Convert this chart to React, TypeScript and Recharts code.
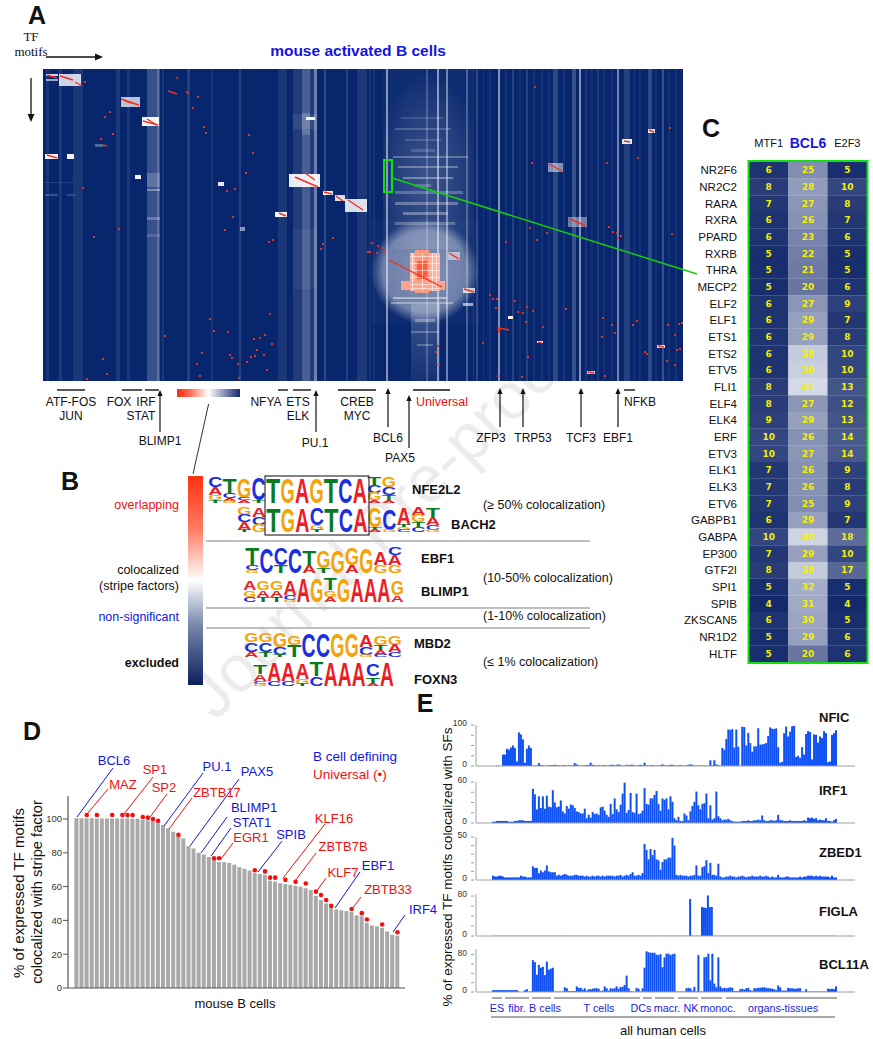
import React from 'react';
import { ScatterChart, Scatter, XAxis, YAxis, ReferenceArea, ReferenceLine, BarChart, Bar, ComposedChart, Line } from 'recharts';

const FONT = '"Liberation Sans", Arial, sans-serif';

/* ---------- Panel A: motif x motif heat map (values in motif rank units) ---------- */
const stripes: number[][] = [
  [3,6,0.07],[16,19,0.09],[30,40,0.08],[73,77,0.09],[84,87,0.08],[104,117,0.2],[114,116,0.18],[119,121,0.08],
  [144,147,0.12],[168,170,0.07],[196,198,0.12],[235,244,0.08],[250,274,0.1],[259,267,0.18],[271,274,0.35],
  [281,283,0.16],[303,305,0.13],[314,324,0.09],[326,328,0.06],[330,332,0.05],[343,345,0.5],[383,385,0.2],[394,396,0.5],[403,405,0.42],
  [423,425,0.25],[430,431,0.08],[433,435,0.16],[440,441,0.07],[446,448,0.07],[455,457,0.5],[462,464,0.06],[469,471,0.12],[476,478,0.06],
  [483,485,0.12],[490,492,0.06],[498,500,0.06],[505,507,0.05],[510,515,0.16],[520,522,0.07],[529,533,0.2],[536,538,0.5],[542,544,0.07],
  [548,550,0.05],[554,556,0.09],[560,562,0.06],[568,570,0.05],[574,576,0.42],[581,587,0.12],[590,592,0.05],[596,598,0.06],[605,609,0.16],[612,614,0.05],[619,621,0.2],[625,627,0.05],[632,634,0.06],
];
const softFrames: (number | string)[][] = [
  [340,430,0,180,'url(#upGlow)'],[328,436,150,255,'url(#blobGlow)'],[368,397,235,312,'url(#tailGlow)'],
];
const glowBlocks: number[][] = [
  [358,400,48,50,0.14],[352,408,59,61,0.2],[362,398,70,72,0.16],[350,425,87,89,0.28],[355,415,97,99,0.3],
  [360,410,108,110,0.34],[352,420,122,125,0.24],[352,415,133,136,0.3],[360,405,143,146,0.32],[352,412,153,156,0.26],[368,392,80,83,0.16],[372,388,115,118,0.22],
  [350,404,228,230,0.45],[348,410,233,235,0.35],[372,392,250,253,0.3],[368,396,262,264,0.25],[374,390,275,277,0.25],
  [104,117,104,118,0.2],[104,117,120,122,0.35],[104,117,148,151,0.25],[104,117,165,168,0.14],
  [259,267,44,66,0.16],[250,274,45,60,0.08],[250,274,160,220,0.05],
  [2,15,125,127,0.2],[24,32,125,127,0.16],[0,30,113,114,0.1],
  [3,15,5,7,0.8],[3,15,10,12,0.6],[16,38,5,17,0.8],[78,97,28,38,0.72],[99,116,48,57,0.95],[2,15,85,90,0.95],[24,31,85,90,0.95],
  [246,277,105,118,0.92],[280,290,122,126,0.95],[292,302,126,132,0.85],[302,324,130,143,0.85],[232,244,143,148,0.95],[263,272,48,51,0.95],
  [505,520,94,103,0.5],[525,544,148,158,0.4],[579,589,70,75,0.9],[605,612,60,64,0.85],[420,432,219,224,0.75],
  [405,417,183,191,0.5],[420,430,234,237,0.6],[465,470,247,250,0.95],[494,500,272,274,0.95],[614,622,276,279,0.85],
  [544,552,302,305,0.75],[92,98,106,110,0.95],[175,181,113,117,0.9],[197,202,158,162,0.5],[52,60,75,78,0.3],
];
const redBlocks: (number | string)[][] = [
  [367,397,184,222,'#ffb3a0'],[372,386,181,224,'#ff9a82'],[374,384,192,210,'#ff5a3a'],[358,402,212,221,'#ffa48e'],
];
const coreRows = [187,194,201,208,215,219];
const coreColumns = [369,379,389,393];
const redSegments: number[][] = [
  [17,7,30,11],[32,13,39,17],[4,6,14,9],[82,32,96,36],[104,50,114,56],[4,86,14,89],[252,108,275,118],[262,104,272,111],
  [281,123,289,125],[293,127,300,132],[305,131,320,141],[236,144,243,147],[346,191,399,218],[506,95,519,102],[527,150,543,157],
  [406,184,416,190],[421,220,431,223],[125,22,134,25],[143,22,146,25],[78,30,90,34],[100,52,115,56],[455,258,456,264],[456,259,466,261],[581,72,587,73],
  [606,61,611,63],[615,277,621,278],[545,303,551,304],[495,273,499,274],[133,8,135,10],[60,76,64,77],
];
const redDotX = [42,67,62,70,58,155,150,161,163,206,210,203,184,192,40,76,51,182,190,226,230,280,278,290,167,227,171,185,122,211,217,222,229,214,212,208,221,159,187,189,154,195,204,60,64,224,157,196,44,489,564,492,627,595,566,570,574,578,575,629,487,504,494,463,329,335,340,327,334,342,325,472,484,490,475,480,483,447,450,454,453,523,500,560,569,572,559,594,590,625,636,639,632,440,485,602,604,634,637,624,632,395,393,396,479,455,562];
const redDotY = [13,43,48,65,70,28,39,58,64,66,84,104,122,120,119,160,168,161,148,173,171,175,180,169,250,245,262,263,267,270,269,266,275,281,287,288,286,284,286,289,295,295,293,290,305,301,307,309,310,94,94,18,59,89,158,163,164,167,169,165,159,164,171,173,174,177,179,183,184,184,183,232,238,242,243,244,253,226,230,230,239,240,258,249,256,264,268,252,256,256,255,254,266,274,288,283,285,281,280,292,296,277,283,296,308,307,307];

/* ---------- Panel B: sequence logos (top letter first; digit = share of column height) ---------- */
const logoNFE2L2 = ['C4A3G2T1','T7C2A1G1','G8C1A1','C9T1','T10','G10','A10','G10','T10','C10','A10','T3C3G3A1','G4C3T2A1'];
const logoBACH2 = ['G3C3A3T1','A4C3G3','T10','G10','A10','C7G2T1','T10','C10','A10','G8T1A1','C9G1','A7T1G1C1','A3G3T2C2','T4A3C2G1'];
const logoEBF1 = ['T7C2G1','C10','C7T3','C10','T6A3','G7T2','G9','G7A3','G10','A5G3','C3A4G3'];
const logoBLIMP1 = ['A4G3C2','G4A3T2','G4A3T2','A6C2G1','A10','G10','T5G3A2','G10','A10','A10','A10','G6A3'];
const logoMBD2 = ['G4C4A2','G4C4T2','G6C3T1','G4T5','C10','C10','G10','G10','A5C3G1','G4T2A2C1','G4A3C2'];
const logoFOXN3 = ['T4A3C1G1','A8C2','A8C2','A7G2T1','T6C4','A10','A10','A10','C5T3A1','A10'];
const LOGO_COLOR: Record<string, string> = { A: '#ee1c25', C: '#1a2fe0', G: '#f5a30a', T: '#0a7a22' };
const LOGO_ADV: Record<string, number> = { A: 7.22, C: 7.22, G: 7.78, T: 6.11 };

/* ---------- Panel C ---------- */
const tfNames = ['NR2F6','NR2C2','RARA','RXRA','PPARD','RXRB','THRA','MECP2','ELF2','ELF1','ETS1','ETS2','ETV5','FLI1','ELF4','ELK4','ERF','ETV3','ELK1','ELK3','ETV6','GABPB1','GABPA','EP300','GTF2I','SPI1','SPIB','ZKSCAN5','NR1D2','HLTF'];
const mtf1Values = [6,8,7,6,6,5,5,5,6,6,6,6,6,8,8,9,10,10,7,7,7,6,10,7,8,5,4,6,5,5];
const bcl6Values = [25,28,27,26,23,22,21,20,27,29,29,38,39,41,27,29,26,27,26,26,25,29,40,29,38,32,31,30,29,20];
const e2f3Values = [5,10,8,7,6,5,5,6,9,7,8,10,10,13,12,13,14,14,9,8,9,7,18,10,17,5,4,5,6,6];

/* ---------- Panel D ---------- */
const stripeFactorShare = [100.4,100.4,100.4,100.4,100.3,100.3,100.3,100.3,100.3,100.3,100.3,100.2,100.2,99.5,99.3,98.8,98,96.5,94.5,92.5,90,88.5,84,82.5,80,79,77.5,77,74.5,74.5,74,73,71.5,70.5,69.5,68,67.5,67,63.5,63,62,61.5,61,60.5,60,59,58,54.5,52,50,48,46.5,46,45.5,45,43,42.5,38.5,37,36.5,35.5,33.5,31.5,31];
const universalIndex = [2,4,7,9,10,11,13,14,15,16,20,27,28,35,37,38,39,41,43,45,47,48,49,50,54,56,57,60,63];
const universalValue = [102.4,102.4,102.4,102.3,102.3,102.3,101.2,100.8,100,99,90.7,76.8,76.8,69.7,69,65.3,65.3,64,62.8,61.8,57,55,52,48.6,46.7,44.3,40.5,37.6,33];
const dTicks = [0,20,40,60,80,100];

/* ---------- Panel E ---------- */
const nficValues = [0,0,1,1,0,28,28,42,40,45,50,44,11,82,77,65,8,42,50,44,1,1,1,7,2,2,1,1,2,2,2,3,2,2,1,2,2,1,2,1,2,7,4,2,1,1,2,2,3,8,3,2,1,2,1,2,2,1,1,3,3,2,3,4,2,1,1,3,2,3,3,1,1,2,3,2,8,2,1,2,2,1,1,1,2,4,2,1,2,3,3,2,1,2,2,1,1,2,3,4,3,1,1,1,1,1,1,1,1,14,2,14,4,2,1,44,40,66,89,88,90,45,89,47,0,96,95,50,81,56,35,48,48,92,52,53,54,56,73,94,91,90,92,46,8,10,80,96,72,84,97,98,22,25,20,46,28,78,85,83,16,77,76,57,72,68,85,80,9,11,76,80,87];
const irf1Values = [2,2,3,3,3,3,3,3,2,2,2,3,3,4,4,4,3,3,3,3,50,42,20,39,22,39,21,40,24,23,48,30,23,24,33,17,14,25,21,27,26,22,17,16,14,14,21,7,12,8,16,13,14,12,23,24,18,12,9,28,13,36,20,16,27,43,59,15,19,44,16,15,43,13,14,18,51,28,27,36,36,41,47,28,18,36,34,36,20,39,31,7,4,9,3,3,14,11,4,17,25,31,46,26,20,28,29,43,7,26,5,7,46,10,7,4,5,5,6,4,3,2,2,2,2,3,3,3,4,3,3,4,4,5,4,11,4,3,3,4,4,3,4,12,4,4,3,3,3,4,3,3,3,3,3,3,4,3,8,7,8,6,7,4,5,4,4,7,3,3,2,4,6];
const zbed1Values = [5,4,4,5,5,4,3,3,3,3,3,3,3,3,5,4,4,3,3,3,16,14,14,8,11,9,11,17,10,9,9,9,5,6,5,6,7,6,5,5,5,6,6,5,5,5,4,5,4,4,5,4,5,5,4,5,4,5,5,5,5,4,5,5,6,4,5,6,5,7,9,5,5,6,5,8,42,35,24,36,29,35,24,23,12,21,24,24,26,26,49,40,6,5,6,5,5,5,4,5,5,6,17,5,5,15,16,23,8,20,6,6,5,19,4,3,3,4,4,5,4,4,3,4,4,5,4,3,4,4,5,4,4,4,5,4,4,5,4,3,4,3,3,6,3,3,3,4,4,3,3,3,3,3,4,3,4,4,5,5,5,4,5,4,5,4,4,4,4,3,5,3,3];
const figlaValues = [0.4,0.4,0.4,0.4,0.4,0.4,0.4,0.4,0.4,0.4,0.4,0.4,0.4,0.4,0.4,0.4,0.4,0.4,0.4,0.4,0.4,0.4,0.4,0.4,0.4,0.4,0.4,0.4,0.4,0.4,0.4,0.4,0.4,0.4,0.4,0.4,0.4,0.4,0.4,0.4,0.4,0.4,0.4,0.4,0.4,0.4,0.4,0.4,0.4,0.4,0.4,0.4,0.4,0.4,0.4,0.4,0.4,0.4,0.4,0.4,0.4,0.4,0.4,0.4,0.4,0.4,0.4,0.4,0.4,0.4,0.4,0.4,0.4,0.4,0.4,0.4,0.4,0.4,0.4,0.4,0.4,0.4,0.4,0.4,0.4,0.4,0.4,0.4,0.4,0.4,0.4,0.4,0.4,0.4,0.4,0.4,0.4,0.4,0.4,0.4,74,0.4,0.4,0.4,0.4,0.4,58,57,56,81,58,58,0.4,0.4,0.4,0.4,0.4,0.4,0.4,0.4,0.4,0.4,0.4,0.4,0.4,0.4,0.4,0.4,0.4,0.4,0.4,0.4,0.4,0.4,0.4,0.4,0.4,0.4,0.4,0.4,0.4,0.4,0.4,0.4,0.4,0.4,0.4,0.4,0.4,0.4,0.4,0.4,0.4,0.4,0.4,0.4,0.4,0.4,0.4,0.4,0.4,0.4,0.4,0.4,0.4,0.4,0.4,0.4,0.4,0.4,0.4,0.4,0.4,0.4,0.4];
const bcl11aValues = [4,4,4,4,4,4,4,4,4,4,4,4,4,1,0,0,4,6,1,1,68,64,37,58,52,54,36,65,48,50,52,1,1,1,1,1,10,8,2,2,2,2,12,9,9,5,8,3,6,6,7,8,8,7,2,3,12,8,3,8,7,8,12,7,11,11,15,35,8,2,1,1,9,7,1,8,52,87,85,84,84,84,80,79,81,53,74,82,82,79,81,82,1,1,1,1,1,8,9,8,3,11,1,79,1,1,74,75,82,25,82,18,10,74,12,8,9,8,9,10,9,2,2,2,6,7,5,8,9,4,2,8,8,9,9,10,10,9,8,8,7,6,4,14,10,3,3,3,9,8,8,7,7,8,8,1,1,6,1,1,1,1,1,1,1,1,1,1,7,6,7,6,12];

const heatPoints = redDotX.map((x, i) => ({ x, y: redDotY[i] }));
const cellPoints = tfNames.flatMap((tf, i) => [
  { col: 'MTF1', tf, value: mtf1Values[i] },
  { col: 'BCL6', tf, value: bcl6Values[i] },
  { col: 'E2F3', tf, value: e2f3Values[i] },
]);
const universalMap = new Map(universalIndex.map((k, i) => [k, universalValue[i]]));
const dRows = stripeFactorShare.map((v, i) => ({ i, v, dot: universalMap.get(i) ?? null }));

const mix = (a: number[], b: number[], t: number) => {
  const c = a.map((x, i) => Math.round(x + (b[i] - x) * t));
  return `rgb(${c[0]},${c[1]},${c[2]})`;
};
const cellColor = (v: number) => mix([20, 41, 107], [212, 217, 230], Math.min(1, (v - 4) / 37));

/* ---------- drawing helpers ---------- */
const T = ({ x, y, s = 12, c = '#111', a = 'start', b = false, f = FONT, r, children }: any) => (
  <text x={x} y={y} fontSize={s} fill={c} textAnchor={a} fontWeight={b ? 700 : 400} fontFamily={f} dominantBaseline="central"
    transform={r !== undefined ? `rotate(${r} ${x} ${y})` : undefined}>{children}</text>
);
const Seg = ({ p, c = '#111', w = 1 }: any) => <line x1={p[0]} y1={p[1]} x2={p[2]} y2={p[3]} stroke={c} strokeWidth={w} />;
const ArrowUp = ({ x, y1, y2 }: any) => (
  <g>
    <line x1={x} y1={y1} x2={x} y2={y2 + 4} stroke="#111" strokeWidth={1.2} />
    <polygon points={`${x},${y2} ${x - 2.6},${y2 + 6} ${x + 2.6},${y2 + 6}`} fill="#111" />
  </g>
);
const Logo = ({ cols, x, y, w, h }: any) => {
  const cw = w / cols.length;
  return (
    <g>
      {cols.map((col: string, i: number) => {
        const parts = col.match(/[ACGT]\d+/g) || [];
        const total = parts.reduce((s: number, p: string) => s + Number(p.slice(1)), 0);
        const height = h * Math.min(total, 10) / 10;
        let cy = y + h - height;
        return parts.map((p: string, k: number) => {
          const l = p[0];
          const lh = height * Number(p.slice(1)) / total;
          cy += lh;
          const sx = (cw * 0.98) / LOGO_ADV[l];
          const sy = lh / 7.4;
          return (
            <text key={`${i}-${k}`} transform={`translate(${x + cw * i + cw / 2} ${cy}) scale(${sx} ${sy})`} fontSize={10} fontWeight={700}
              fontFamily={FONT} fill={LOGO_COLOR[l]} textAnchor="middle">{l}</text>
          );
        });
      })}
    </g>
  );
};

const Abs = ({ l, t, children }: any) => <div style={{ position: 'absolute', left: l, top: t }}>{children}</div>;

const Heat = () => (
  <Abs l={43} t={69}>
    <div style={{ background: '#07266d', width: 640, height: 312 }}>
      <ScatterChart width={640} height={312} margin={{ top: 0, right: 0, bottom: 0, left: 0 }}>
        <XAxis type="number" dataKey="x" domain={[0, 640]} hide />
        <YAxis type="number" dataKey="y" domain={[0, 312]} reversed hide />
        {stripes.map((s, i) => (
          <ReferenceArea key={`s${i}`} x1={s[0]} x2={s[1]} y1={0} y2={312} fill="#ffffff" fillOpacity={s[2]} stroke="none" />
        ))}
        {softFrames.map((s, i) => (
          <ReferenceArea key={`f${i}`} x1={s[0] as number} x2={s[1] as number} y1={s[2] as number} y2={s[3] as number} fill={s[4] as string} stroke="none" />
        ))}
        {glowBlocks.map((s, i) => (
          <ReferenceArea key={`g${i}`} x1={s[0]} x2={s[1]} y1={s[2]} y2={s[3]} fill="#ffffff" fillOpacity={s[4]} stroke="none" />
        ))}
        {redBlocks.map((s, i) => (
          <ReferenceArea key={`r${i}`} x1={s[0] as number} x2={s[1] as number} y1={s[2] as number} y2={s[3] as number} fill={s[4] as string} fillOpacity={1} stroke="none" />
        ))}
        {coreRows.map(y => (
          <ReferenceArea key={`cr${y}`} x1={367} x2={397} y1={y} y2={y + 1} fill="#ffffff" fillOpacity={0.55} stroke="none" />
        ))}
        {coreColumns.map(x => (
          <ReferenceArea key={`cc${x}`} x1={x} x2={x + 1} y1={184} y2={222} fill="#ffffff" fillOpacity={0.6} stroke="none" />
        ))}
        {redSegments.map((s, i) => (
          <ReferenceLine key={`l${i}`} segment={[{ x: s[0], y: s[1] }, { x: s[2], y: s[3] }]} stroke="#f4301c" strokeWidth={1.4} />
        ))}
        <Scatter data={heatPoints} isAnimationActive={false}
          shape={(p: any) => <rect x={p.cx - 1} y={p.cy - 1} width={2} height={2} fill="#e8301e" />} />
      </ScatterChart>
    </div>
  </Abs>
);

const CTick = ({ x, payload }: any) => {
  const hi = payload.value === 'BCL6';
  return <text x={x} y={143} fontFamily={FONT} fontSize={hi ? 14 : 11} fontWeight={hi ? 700 : 400} fill={hi ? '#1414e0' : '#111'} textAnchor="middle" dominantBaseline="central">{payload.value}</text>;
};

const TableC = () => (
  <Abs l={0} t={0}>
    <ScatterChart width={873} height={680} margin={{ top: 161, right: 6, bottom: 18, left: 748 }}>
      <XAxis type="category" dataKey="col" orientation="top" allowDuplicatedCategory={false} height={1} axisLine={false} tickLine={false}
        tick={<CTick />} interval={0} />
      <YAxis type="category" dataKey="tf" allowDuplicatedCategory={false} width={1} axisLine={false} tickLine={false} reversed interval={0}
        tick={(p: any) => <text x={737} y={p.y} fontFamily={FONT} fontSize={11.5} fill="#111" textAnchor="end" dominantBaseline="central">{p.payload.value}</text>} />
      <Scatter data={cellPoints} isAnimationActive={false}
        shape={(p: any) => (
          <g>
            <rect x={p.cx - 19.8} y={p.cy - 8.4} width={39.6} height={16.8} fill={cellColor(p.payload.value)} />
            <text x={p.cx} y={p.cy} fontFamily='"DejaVu Sans", sans-serif' fontWeight={700} fontSize={9} fill="#f4f000" textAnchor="middle" dominantBaseline="central">{p.payload.value}</text>
          </g>
        )} />
    </ScatterChart>
  </Abs>
);

const ChartD = () => (
  <Abs l={0} t={790}>
    <ComposedChart width={405} height={207} data={dRows} margin={{ top: 6, right: 0, bottom: 8, left: 0 }} barCategoryGap={0.4}>
      <XAxis dataKey="i" height={1} tick={false} axisLine={{ stroke: '#555', strokeWidth: 1.2 }} tickLine={false} padding={{ left: 6, right: 5 }} />
      <YAxis width={68} domain={[0, 113.6]} ticks={dTicks} interval={0} tick={{ fontSize: 9.5, fill: '#333', fontFamily: FONT }} tickSize={5} tickMargin={1}
        axisLine={{ stroke: '#555', strokeWidth: 1.2 }} tickLine={{ stroke: '#555' }} />
      <Bar dataKey="v" fill="#a9a9a9" isAnimationActive={false} />
      <Line dataKey="dot" stroke="none" strokeWidth={0} connectNulls={false} isAnimationActive={false}
        dot={{ r: 2.3, fill: '#f01010', stroke: 'none' }} activeDot={false} />
    </ComposedChart>
  </Abs>
);

const SmallBars = ({ values, top, base, max, ticks }: any) => {
  const rows = values.map((v: number, i: number) => ({ i, v }));
  const label = (p: any) => {
    const val = p.payload.value;
    return (
      <g>
        <line x1={p.x + 3} x2={p.x + 6} y1={p.y} y2={p.y} stroke="#999" />
        {(val === 0 || val === ticks[ticks.length - 1]) && (
          <text x={p.x - 1} y={p.y - 2} fontFamily={FONT} fontSize={8.5} fill="#333" textAnchor="end" dominantBaseline="central">{val}</text>
        )}
      </g>
    );
  };
  return (
    <Abs l={430} t={top - 8}>
      <BarChart width={425} height={base - top + 10} data={rows} margin={{ top: 8, right: 0, bottom: 1, left: 0 }} barCategoryGap={0}>
        <XAxis dataKey="i" height={1} tick={false} tickLine={false} axisLine={{ stroke: '#a0a0a0', strokeWidth: 1.2 }} padding={{ left: 16, right: 18 }} />
        <YAxis width={46} domain={[0, max]} ticks={ticks} interval={0} tick={label} tickLine={false} axisLine={{ stroke: '#a0a0a0' }} />
        <Bar dataKey="v" fill="#0f50f0" isAnimationActive={false} />
      </BarChart>
    </Abs>
  );
};

const dLabels: any[] = [
  ['BCL6', 114, 760, '#1515e0', [113, 768, 77, 817]],
  ['MAZ', 123, 784, '#f01010', [108, 789, 87, 814]],
  ['SP1', 155, 769, '#f01010', [153, 777, 124, 814]],
  ['SP2', 164, 787, '#f01010', [167, 794, 150, 817]],
  ['PU.1', 217, 766, '#1515e0', [203, 773, 164, 826]],
  ['PAX5', 257, 771, '#1515e0', [239, 779, 190, 846]],
  ['ZBTB17', 217, 792, '#f01010', [192, 798, 169, 829]],
  ['BLIMP1', 254, 807, '#1515e0', [227, 817, 201, 853]],
  ['STAT1', 252, 822, '#1515e0', [231, 828, 211, 856]],
  ['EGR1', 251, 837, '#f01010', [233, 843, 221, 859]],
  ['SPIB', 291, 834, '#1515e0', [282, 841, 258, 872]],
  ['KLF16', 334, 818, '#f01010', [325, 824, 283, 878]],
  ['ZBTB7B', 343, 846, '#f01010', [316, 853, 295, 881]],
  ['KLF7', 343, 872, '#f01010', [326, 878, 316, 892]],
  ['EBF1', 378, 865, '#1515e0', [360, 872, 335, 908]],
  ['ZBTB33', 388, 889, '#f01010', [361, 897, 352, 909]],
  ['IRF4', 423, 909, '#1515e0', [405, 915, 393, 932]],
];
const segA: number[][] = [[57,85],[122,142],[145,159],[278,288],[293,311],[338,376],[413,450],[624,635]];
const labA: any[] = [
  ['ATF-FOS',71,402],['JUN',71,416],['FOX',119,402],['IRF',146,402],['STAT',141,416],['BLIMP1',160,441],['NFYA',266,402],['ETS',298,402],['ELK',298,416],
  ['PU.1',315,443],['CREB',357,402],['MYC',357,416],['BCL6',388,438],['PAX5',400,458],['ZFP3',491,438],['TRP53',533,438],['TCF3',581,438],['EBF1',618,438],['NFKB',640,402],
];
const arrowsA: number[][] = [[160,432,390],[316,432,390],[388,427,388],[409,448,395],[500,427,388],[523,427,388],[581,427,388],[618,427,388]];
const segE: number[][] = [[492,502],[505,529],[532,551],[554,640],[643,652],[655,674],[678,698],[701,722],[726,837]];
const labE: any[] = [['ES',497],['fibr.',517],['B cells',545],['T cells',599],['DCs',641],['macr.',667],['NK',691],['monoc.',718],['organs-tissues',783]];

const Defs = () => (
  <svg width={0} height={0} style={{ position: 'absolute' }}>
    <defs>
      <radialGradient id="upGlow" cx="0.5" cy="0.62" r="0.6">
        <stop offset="0" stopColor="#fff" stopOpacity={0.42} /><stop offset="0.6" stopColor="#fff" stopOpacity={0.24} /><stop offset="1" stopColor="#fff" stopOpacity={0.06} />
      </radialGradient>
      <radialGradient id="blobGlow" cx="0.5" cy="0.5" r="0.5">
        <stop offset="0" stopColor="#fff" stopOpacity={1} /><stop offset="0.78" stopColor="#fff" stopOpacity={0.82} /><stop offset="1" stopColor="#fff" stopOpacity={0.05} />
      </radialGradient>
      <linearGradient id="tailGlow" x1="0" x2="0" y1="0" y2="1">
        <stop offset="0" stopColor="#fff" stopOpacity={0.45} /><stop offset="1" stopColor="#fff" stopOpacity={0.1} />
      </linearGradient>
    </defs>
  </svg>
);

const Overlay = () => (
  <svg width={873} height={1039} style={{ position: 'absolute', left: 0, top: 0 }}>
    <defs>
      <linearGradient id="strip" x1="0" x2="1" y1="0" y2="0">
        <stop offset="0" stopColor="#ff2a10" /><stop offset="0.2" stopColor="#ff6a50" /><stop offset="0.5" stopColor="#ffffff" /><stop offset="1" stopColor="#12296b" />
      </linearGradient>
      <linearGradient id="vbar" x1="0" x2="0" y1="0" y2="1">
        <stop offset="0" stopColor="#ff3012" /><stop offset="0.25" stopColor="#ff7a60" /><stop offset="0.5" stopColor="#ffffff" /><stop offset="0.72" stopColor="#7484aa" /><stop offset="1" stopColor="#0b2160" />
      </linearGradient>
    </defs>

    {/* Panel A text */}
    <T x={37} y={15} s={25} b a="middle">A</T>
    <T x={31} y={36} s={13} a="middle" f='"Liberation Serif", serif'>TF</T>
    <T x={31} y={51} s={13} a="middle" f='"Liberation Serif", serif'>motifs</T>
    <line x1={46} y1={57} x2={98} y2={57} stroke="#111" strokeWidth={1.3} />
    <polygon points="103,57 95,53.5 95,60.5" fill="#111" />
    <line x1={31} y1={78} x2={31} y2={116} stroke="#111" strokeWidth={1.3} />
    <polygon points="31,122 27.5,114 34.5,114" fill="#111" />
    <T x={358} y={50} s={15.5} b c="#1414e0" a="middle">mouse activated B cells</T>
    {segA.map((s, i) => <Seg key={i} p={[s[0], 390, s[1], 390]} w={1.4} />)}
    {labA.map((l, i) => <T key={i} x={l[1]} y={l[2]} a="middle" s={12}>{l[0]}</T>)}
    <T x={442} y={402} a="middle" s={12.5} c="#f01010">Universal</T>
    {arrowsA.map((a, i) => <ArrowUp key={i} x={a[0]} y1={a[1]} y2={a[2]} />)}
    <rect x={177} y={389} width={63} height={8} fill="url(#strip)" />
    <Seg p={[208.6, 404, 193, 474]} c="#333" w={1} />
    <rect x={384} y={160} width={8} height={32} fill="none" stroke="#10e010" strokeWidth={2} />
    <Seg p={[392, 178, 697, 274]} c="#10d010" w={1.5} />

    {/* Panel B */}
    <T x={70} y={481} s={25} b a="middle">B</T>
    <rect x={188} y={476} width={15} height={209} fill="url(#vbar)" />
    <T x={179} y={505} a="end" s={12.5} c="#f01010">overlapping</T>
    <T x={179} y={570} a="end" s={12.5}>colocalized</T>
    <T x={179} y={586} a="end" s={12.5}>(stripe factors)</T>
    <T x={179} y={617} a="end" s={12.5} c="#1414e0">non-significant</T>
    <T x={179} y={663} a="end" s={12.5} b>excluded</T>
    <Logo cols={logoNFE2L2} x={208} y={477} w={188} h={26} />
    <Logo cols={logoBACH2} x={237} y={507} w={203} h={25} />
    <Logo cols={logoEBF1} x={245} y={547} w={157} h={26} />
    <Logo cols={logoBLIMP1} x={243} y={578} w={161} h={24} />
    <Logo cols={logoMBD2} x={244} y={632} w={158} h={25} />
    <Logo cols={logoFOXN3} x={253} y={662} w={141} h={24} />
    <rect x={265} y={476} width={104} height={59} fill="none" stroke="#333" strokeWidth={1.2} />
    {[541, 608, 628].map(y => <Seg key={y} p={[206, y, 590, y]} c="#aaa" w={1.3} />)}
    <T x={412} y={489} s={13} b>NFE2L2</T>
    <T x={451} y={524} s={13} b>BACH2</T>
    <T x={421} y={558} s={13} b>EBF1</T>
    <T x={421} y={591} s={13} b>BLIMP1</T>
    <T x={414} y={643} s={13} b>MBD2</T>
    <T x={414} y={679} s={13} b>FOXN3</T>
    <T x={483} y={505} s={12.5}>(≥ 50% colocalization)</T>
    <T x={483} y={578} s={12.5}>(10-50% colocalization)</T>
    <T x={483} y={616} s={12.5}>(1-10% colocalization)</T>
    <T x={483} y={662} s={12.5}>(≤ 1% colocalization)</T>

    {/* Panel C */}
    <T x={711} y={128} s={25} b a="middle">C</T>
    <rect x={748.5} y={161} width={119} height={502} fill="none" stroke="#10e010" strokeWidth={2} />

    {/* Panel D */}
    <T x={32} y={731} s={25} b a="middle">D</T>
    <T x={18} y={893} s={15} a="middle" r={-90}>% of expressed TF motifs</T>
    <T x={37} y={892} s={14.7} a="middle" r={-90}>colocalized with stripe factor</T>
    <T x={235} y={1003} s={13} a="middle">mouse B cells</T>
    <T x={313} y={756} s={13.5} c="#1414e0">B cell defining</T>
    <T x={313} y={774} s={13.5} c="#f01010">Universal (•)</T>
    {dLabels.map((d, i) => (
      <g key={i}>
        <Seg p={d[4]} c={d[3]} w={1} />
        <T x={d[1]} y={d[2]} s={13} a="middle" c={d[3]}>{d[0]}</T>
      </g>
    ))}

    {/* Panel E */}
    <T x={425} y={703} s={25} b a="middle">E</T>
    <T x={447} y={867} s={13.5} a="middle" r={-90}>% of expressed TF motifs colocalized with SFs</T>
    <T x={819} y={717} s={13} b>NFIC</T>
    <T x={819} y={790} s={13} b>IRF1</T>
    <T x={819} y={852} s={13} b>ZBED1</T>
    <T x={819} y={911} s={13} b>FIGLA</T>
    <T x={819} y={964} s={13} b>BCL11A</T>
    {segE.map((s, i) => <Seg key={i} p={[s[0], 998, s[1], 998]} c="#555" w={1} />)}
    {labE.map((l, i) => <T key={i} x={l[1]} y={1008} a="middle" s={10.8} c="#2222dd">{l[0]}</T>)}
    <Seg p={[491, 1017, 835, 1017]} c="#555" w={1} />
    <T x={663} y={1030} s={13} a="middle">all human cells</T>
  </svg>
);

export default function App() {
  return (
    <div style={{ position: 'absolute', left: 0, top: 0, width: 873, height: 1039, overflow: 'hidden', background: '#fff', fontFamily: FONT }}>
      <Defs />
      <svg width={873} height={1039} style={{ position: 'absolute', left: 0, top: 0 }}>
        <text x={215} y={722} transform="rotate(-45 215 722)" fontFamily={FONT} fontSize={66} fill="#ececec">Journal Pre-proof</text>
      </svg>
      <Heat />
      <TableC />
      <ChartD />
      <SmallBars values={nficValues} top={725} base={766} max={100} ticks={[0,25,50,75,100]} />
      <SmallBars values={irf1Values} top={782} base={823} max={60} ticks={[0,15,30,45,60]} />
      <SmallBars values={zbed1Values} top={837} base={880} max={50} ticks={[0,10,20,30,40,50]} />
      <SmallBars values={figlaValues} top={894} base={936} max={84} ticks={[0,20,40,60,80]} />
      <SmallBars values={bcl11aValues} top={949} base={992} max={92} ticks={[0,20,40,60,80]} />
      <Overlay />
    </div>
  );
}
